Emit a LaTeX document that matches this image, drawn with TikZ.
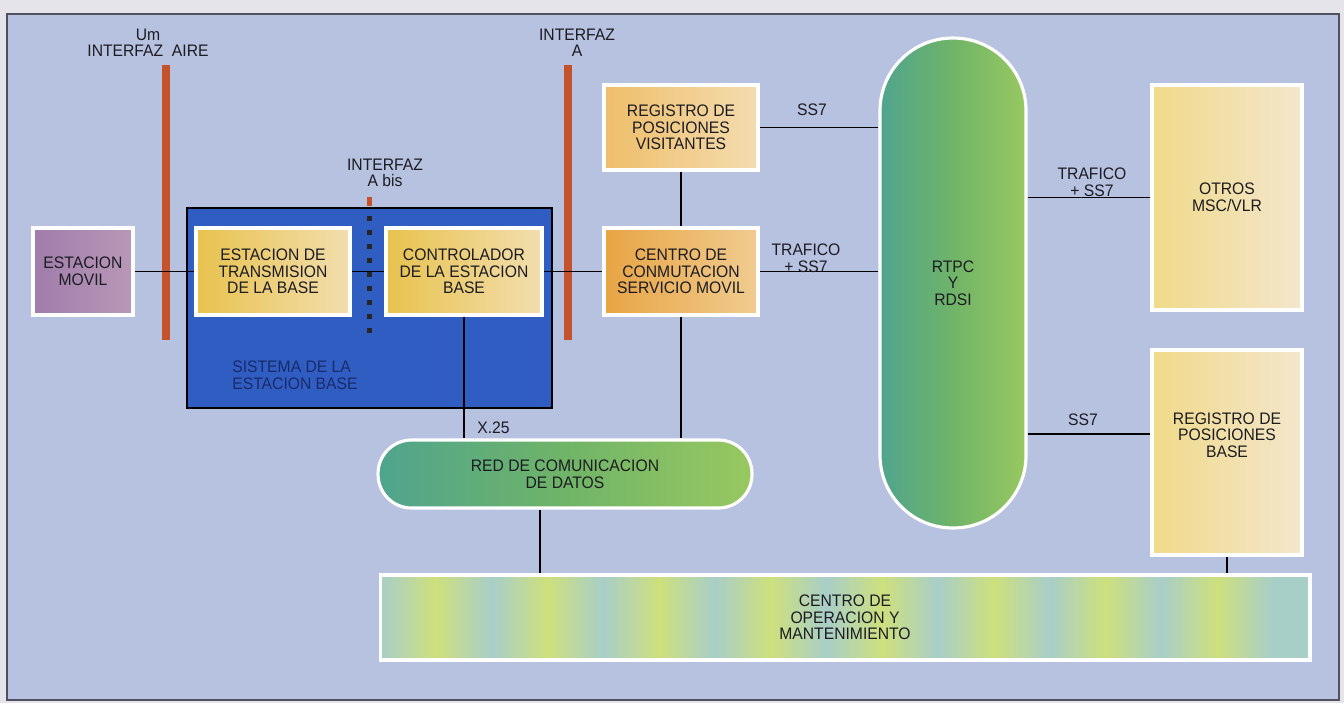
\documentclass[tikz,border=0pt]{standalone}
\usepackage{fontspec}
\setmainfont{Liberation Sans}[FakeStretch=0.94]
\usetikzlibrary{positioning, calc}
\definecolor{pageGrey}{HTML}{E4E4EA}
\definecolor{panelBlue}{HTML}{B7C1E0}
\definecolor{frameGrey}{HTML}{505060}
\definecolor{bssBlue}{HTML}{2F5DC2}
\definecolor{bssText}{HTML}{1A2A6A}
\definecolor{ifOrange}{HTML}{C4522A}
\definecolor{movPurple}{HTML}{A07CAA}
\definecolor{movLight}{HTML}{B898B8}
\definecolor{yelDeep}{HTML}{E8C24E}
\definecolor{yelLight}{HTML}{F2DEAE}
\definecolor{oraDeep}{HTML}{E8A444}
\definecolor{oraLight}{HTML}{F0CC90}
\definecolor{vlrDeep}{HTML}{EEBE6A}
\definecolor{vlrLight}{HTML}{F4DCB0}
\definecolor{palDeep}{HTML}{F0DA8A}
\definecolor{palLight}{HTML}{F4E6CC}
\definecolor{grnTeal}{HTML}{4FA48E}
\definecolor{grnMid}{HTML}{70B468}
\definecolor{grnYel}{HTML}{98C860}
\definecolor{omcBlue}{HTML}{A8CEC8}
\definecolor{omcYel}{HTML}{CEE07C}
\definecolor{txtDark}{HTML}{1C1C22}
\newcommand{\boxfont}{\fontsize{9.5}{9.4}\selectfont}
\pgfdeclarehorizontalshading{omcbands}{100bp}{color(0bp)=(omcBlue); color(25bp)=(omcBlue);
  color(28bp)=(omcYel); color(31bp)=(omcBlue); color(34bp)=(omcYel); color(37bp)=(omcBlue);
  color(40bp)=(omcYel); color(43bp)=(omcBlue); color(46bp)=(omcYel); color(49bp)=(omcBlue);
  color(52bp)=(omcYel); color(55bp)=(omcBlue); color(58bp)=(omcYel); color(61bp)=(omcBlue);
  color(64bp)=(omcYel); color(67bp)=(omcBlue); color(70bp)=(omcYel); color(73bp)=(omcBlue);
  color(75bp)=(omcBlue); color(100bp)=(omcBlue)}
\tikzset{
  panel/.style    = {fill=panelBlue, draw=frameGrey, line width=0.8pt},
  unitbox/.style  = {rectangle, draw=white, line width=1.8pt, align=center,
                     font=\boxfont, text=txtDark, inner sep=1pt},
  yelbox/.style   = {unitbox, left color=yelDeep, right color=yelLight},
  capsule/.style  = {rectangle, draw=white, line width=1.8pt, align=center,
                     font=\boxfont, text=txtDark, left color=grnTeal, right color=grnYel,
                     middle color=grnMid},
  bssbox/.style   = {rectangle, fill=bssBlue, draw=black, line width=1pt,
                     minimum width=7.3cm, minimum height=4.0cm},
  ifbar/.style    = {fill=ifOrange},
  abisline/.style = {draw=black!85, line width=0.1cm, dash pattern=on 0.1cm off 0.18cm},
  link/.style     = {black, line width=0.8pt},
  lbl/.style      = {font=\boxfont, text=txtDark, align=center, inner sep=0pt},
  blbl/.style     = {font=\boxfont, text=bssText, align=left, inner sep=0pt},
}
\begin{document}
\begin{tikzpicture}[x=0.02cm, y=-0.02cm]
  \useasboundingbox (0,0) rectangle (1344,703);
  \fill[pageGrey] (0,0) rectangle (1344,703);
  \draw[panel] (7,14) rectangle (1339,700);
  % base station subsystem
  \node[bssbox] (bss) at (369.5,308) {};
  \node[blbl, anchor=west] (bsslbl) at (232,375) {SISTEMA DE LA\\ESTACION BASE};
  % interfaces
  \fill[ifbar] (162,65) rectangle (170,340);
  \fill[ifbar] (564,65) rectangle (572,340);
  \fill[ifbar] (367,197) rectangle (372,206);
  \draw[abisline] (369.5,216) -- (369.5,338);
  \node[lbl] (umlbl) at (148,43) {Um\\INTERFAZ\ \ AIRE};
  \node[lbl] (albl) at (577,43) {INTERFAZ\\A};
  \node[lbl] (abislbl) at (385,173) {INTERFAZ\\A bis};
  % units
  \node[unitbox, left color=movPurple, right color=movLight,
        minimum width=2.0cm, minimum height=1.74cm] (movil) at (83,271.5) {ESTACION\\MOVIL};
  \node[yelbox, minimum width=3.08cm, minimum height=1.74cm] (bts) at (273,271.5)
    {ESTACION DE\\TRANSMISION\\DE LA BASE};
  \node[yelbox, minimum width=3.12cm, minimum height=1.74cm] (bsc) at (464,271.5)
    {CONTROLADOR\\DE LA ESTACION\\BASE};
  \node[unitbox, left color=oraDeep, right color=oraLight,
        minimum width=3.08cm, minimum height=1.74cm] (msc) at (681,271.5)
    {CENTRO DE\\CONMUTACION\\SERVICIO MOVIL};
  \node[unitbox, left color=vlrDeep, right color=vlrLight,
        minimum width=3.08cm, minimum height=1.7cm] (vlr) at (681,127.5)
    {REGISTRO DE\\POSICIONES\\VISITANTES};
  \node[capsule, rounded corners=1.45cm, minimum width=2.92cm, minimum height=9.8cm]
    (rtpc) at (953,283) {RTPC\\Y\\RDSI};
  \node[unitbox, left color=palDeep, right color=palLight,
        minimum width=3.0cm, minimum height=4.5cm] (otros) at (1227,197.5) {OTROS\\MSC/VLR};
  \node[unitbox, left color=palDeep, right color=palLight,
        minimum width=3.0cm, minimum height=4.1cm] (hlr) at (1227,452.5) {};
  \node[lbl] (hlrlbl) at (1227,435) {REGISTRO DE\\POSICIONES\\BASE};
  \node[capsule, rounded corners=0.67cm, minimum width=7.48cm, minimum height=1.36cm]
    (red) at (565,474) {RED DE COMUNICACION\\DE DATOS};
  \node[unitbox, shading=omcbands, minimum width=18.6cm, minimum height=1.7cm]
    (omc) at (845,617.5) {CENTRO DE\\OPERACION Y\\MANTENIMIENTO};
  % connections
  \draw[link] (movil) -- (bts);
  \draw[link] (bts) -- (bsc);
  \draw[link] (bsc) -- (msc);
  \draw[link] (vlr) -- (msc);
  \draw[link] (vlr.east) -- (vlr.east -| rtpc.west);
  \draw[link] (msc.east) -- (msc.east -| rtpc.west);
  \draw[link] (otros.west -| rtpc.east) -- (otros.west);
  \coordinate (hlrin) at ([yshift=0.37cm]hlr.west);
  \draw[link] (hlrin -| rtpc.east) -- (hlrin);
  \draw[link] (bsc.south) -- (bsc.south |- red.north);
  \draw[link] (msc.south) -- (msc.south |- red.north);
  \coordinate (redout) at ([xshift=-0.5cm]red.south);
  \draw[link] (redout) -- (redout |- omc.north);
  \draw[link] (hlr.south) -- (hlr.south |- omc.north);
  % link labels
  \node[lbl] (ss7a) at (812,110) {SS7};
  \node[lbl] (trafa) at (806,258) {TRAFICO\\+ SS7};
  \node[lbl] (trafb) at (1092,182) {TRAFICO\\+ SS7};
  \node[lbl] (ss7b) at (1083,420) {SS7};
  \node[lbl, anchor=west] (x25) at (477,428) {X.25};
\end{tikzpicture}
\end{document}
